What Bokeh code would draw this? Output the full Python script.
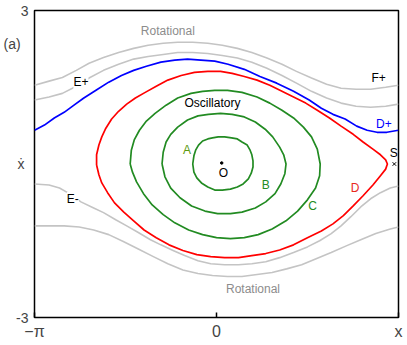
import numpy as np
from bokeh.plotting import figure
from bokeh.models import Range1d, FixedTicker, Label
from bokeh.embed import file_html
from bokeh.resources import INLINE

# ---- curves (phase plane: x, x-dot) ----
rot_top_outer_x = [-3.14, -2.89, -2.66, -2.42, -2.20, -1.95, -1.69, -1.43, -1.18, -0.92, -0.67, -0.41, -0.15,
                   0.10, 0.36, 0.61, 0.87, 1.13, 1.38, 1.64, 1.90, 2.15, 2.41, 2.66, 2.92, 3.14]
rot_top_outer_y = [1.54, 1.62, 1.69, 1.83, 1.97, 2.08, 2.18, 2.26, 2.32, 2.36, 2.38, 2.38, 2.36,
                   2.32, 2.26, 2.18, 2.07, 1.95, 1.81, 1.68, 1.56, 1.48, 1.46, 1.46, 1.50, 1.54]

rot_top_inner_x = [-3.14, -2.89, -2.66, -2.42, -2.20, -1.95, -1.69, -1.43, -1.18, -0.92, -0.67, -0.41, -0.15,
                   0.10, 0.36, 0.61, 0.87, 1.13, 1.38, 1.64, 1.90, 2.15, 2.41, 2.66, 2.92, 3.14]
rot_top_inner_y = [1.25, 1.31, 1.38, 1.52, 1.68, 1.83, 1.95, 2.05, 2.10, 2.14, 2.18, 2.18, 2.16,
                   2.12, 2.07, 1.99, 1.87, 1.73, 1.58, 1.42, 1.29, 1.19, 1.13, 1.11, 1.13, 1.17]

blue_x = [-3.14, -2.97, -2.80, -2.63, -2.46, -2.29, -2.08, -1.86, -1.64, -1.43, -1.21, -0.96, -0.72, -0.50,
          -0.27, -0.03, 0.20, 0.48, 0.75, 1.04, 1.33, 1.60, 1.81, 2.01, 2.22, 2.42, 2.60, 2.77, 2.94, 3.14]
blue_y = [0.66, 0.76, 0.90, 1.01, 1.15, 1.29, 1.44, 1.60, 1.73, 1.83, 1.91, 1.99, 2.03, 2.05,
          2.03, 2.01, 1.95, 1.85, 1.71, 1.58, 1.42, 1.25, 1.09, 0.97, 0.88, 0.74, 0.66, 0.62, 0.62, 0.66]

red_x = [-2.07, -2.07, -2.03, -1.98, -1.91, -1.81, -1.69, -1.55, -1.40, -1.23, -1.04, -0.84, -0.61, -0.38,
         -0.15, 0.07, 0.27, 0.48, 0.70, 0.92, 1.13, 1.33, 1.54, 1.74, 1.95, 2.15, 2.36, 2.53, 2.70, 2.83,
         2.92, 2.95, 2.92, 2.83, 2.70, 2.53, 2.36, 2.19, 2.01, 1.81, 1.57, 1.33, 1.09, 0.85, 0.61, 0.38,
         0.14, -0.10, -0.34, -0.58, -0.82, -1.04, -1.25, -1.43, -1.60, -1.76, -1.88, -1.98, -2.03, -2.07]
red_y = [-0.02, 0.18, 0.37, 0.53, 0.70, 0.88, 1.03, 1.17, 1.29, 1.40, 1.52, 1.64, 1.73, 1.79,
         1.81, 1.81, 1.77, 1.71, 1.64, 1.54, 1.42, 1.31, 1.19, 1.05, 0.90, 0.74, 0.58, 0.43, 0.29, 0.18,
         0.08, 0.00, -0.10, -0.23, -0.41, -0.62, -0.82, -1.01, -1.17, -1.31, -1.44, -1.58, -1.68, -1.75, -1.79, -1.83,
         -1.83, -1.81, -1.77, -1.69, -1.58, -1.44, -1.29, -1.11, -0.94, -0.76, -0.56, -0.37, -0.21, -0.02]

green_c_x = [-1.49, -1.47, -1.42, -1.33, -1.21, -1.06, -0.87, -0.67, -0.44, -0.24, -0.03, 0.19, 0.44, 0.70,
             0.92, 1.13, 1.33, 1.50, 1.64, 1.74, 1.79, 1.78, 1.71, 1.57, 1.40, 1.20, 0.96, 0.72, 0.48, 0.24,
             0.00, -0.24, -0.48, -0.72, -0.92, -1.11, -1.26, -1.38, -1.45, -1.49]
green_c_y = [0.00, 0.27, 0.47, 0.66, 0.84, 0.99, 1.15, 1.29, 1.38, 1.42, 1.44, 1.44, 1.40, 1.31,
             1.19, 1.05, 0.90, 0.72, 0.53, 0.29, 0.00, -0.23, -0.47, -0.70, -0.92, -1.11, -1.27, -1.38, -1.44, -1.46,
             -1.44, -1.38, -1.29, -1.15, -0.99, -0.80, -0.58, -0.35, -0.16, 0.00]

green_b_x = [-0.94, -0.92, -0.87, -0.79, -0.67, -0.50, -0.32, -0.14, 0.07, 0.27, 0.48, 0.67, 0.84, 0.97,
             1.09, 1.16, 1.20, 1.18, 1.11, 1.01, 0.85, 0.67, 0.44, 0.24, 0.02, -0.20, -0.43, -0.63, -0.79,
             -0.89, -0.94]
green_b_y = [0.00, 0.23, 0.43, 0.58, 0.72, 0.86, 0.94, 0.97, 0.99, 0.97, 0.92, 0.82, 0.68, 0.53,
             0.33, 0.18, 0.00, -0.19, -0.39, -0.58, -0.74, -0.86, -0.94, -0.97, -0.97, -0.92, -0.82, -0.66, -0.47,
             -0.25, 0.00]

green_a_x = [-0.41, -0.39, -0.36, -0.31, -0.24, -0.15, -0.07, 0.03, 0.14, 0.26, 0.36, 0.44, 0.53, 0.58,
             0.61, 0.63, 0.63, 0.60, 0.55, 0.46, 0.36, 0.24, 0.10, -0.03, -0.15, -0.26, -0.34, -0.39, -0.41]
green_a_y = [0.00, 0.16, 0.27, 0.37, 0.45, 0.49, 0.51, 0.53, 0.53, 0.51, 0.49, 0.43, 0.37, 0.27,
             0.18, 0.06, -0.06, -0.18, -0.29, -0.39, -0.45, -0.49, -0.51, -0.51, -0.45, -0.37, -0.27, -0.16, 0.00]

rot_bot_inner_x = [-3.14, -2.89, -2.71, -2.54, -2.34, -2.12, -1.95, -1.74, -1.55, -1.35, -1.14, -0.96, -0.75,
                   -0.55, -0.32, -0.10, 0.14, 0.38, 0.61, 0.85, 1.09, 1.33, 1.57, 1.78, 1.98, 2.15, 2.32, 2.49,
                   2.66, 2.83, 3.00, 3.14]
rot_bot_inner_y = [-0.39, -0.41, -0.47, -0.58, -0.74, -0.86, -0.95, -1.09, -1.21, -1.34, -1.48, -1.58, -1.69,
                   -1.79, -1.89, -1.95, -1.97, -1.97, -1.95, -1.91, -1.83, -1.73, -1.62, -1.50, -1.36, -1.21, -1.03,
                   -0.84, -0.68, -0.56, -0.47, -0.43]

rot_bot_outer_x = [-3.14, -2.89, -2.63, -2.37, -2.12, -1.86, -1.60, -1.35, -1.09, -0.84, -0.58, -0.32, -0.07,
                   0.19, 0.44, 0.70, 0.96, 1.21, 1.47, 1.72, 1.98, 2.24, 2.49, 2.75, 3.00, 3.14]
rot_bot_outer_y = [-1.21, -1.21, -1.21, -1.23, -1.29, -1.38, -1.52, -1.66, -1.81, -1.95, -2.07, -2.14, -2.18,
                   -2.20, -2.20, -2.16, -2.12, -2.05, -1.97, -1.85, -1.73, -1.60, -1.48, -1.36, -1.27, -1.23]

centre_x, centre_y = [0.09], [0.02]
saddle_x, saddle_y = [3.07], [0.0]

# axis tick labels
x_ticks = [-np.pi, 0.0, np.pi]
x_tick_labels = ["\u2212\u03c0", "0", "x"]
y_ticks = [-3, 0, 2.34, 3]
y_tick_labels = ["-3", "\u1e8b\u00a0", "(a)\u00a0\u00a0", "3"]

# text labels: (text, x, y, colour)
labels = [
    ("Rotational", -0.84, 2.59, "#8c8c8c"),
    ("Rotational", 0.63, -2.45, "#8c8c8c"),
    ("Oscillatory", -0.07, 1.19, "black"),
    ("F+", 2.80, 1.68, "black"),
    ("D+", 2.89, 0.78, "blue"),
    ("S", 3.06, 0.21, "black"),
    ("D", 2.39, -0.47, "#e8281e"),
    ("C", 1.66, -0.82, "#228b22"),
    ("B", 0.85, -0.41, "#228b22"),
    ("A", -0.51, 0.27, "#5c9a10"),
    ("O", 0.12, -0.18, "black"),
]
boxed_labels = [("E+", -2.34, 1.60), ("E-", -2.48, -0.68)]

p = figure(width=404, height=342, x_range=Range1d(-np.pi, np.pi), y_range=Range1d(-3, 3),
           output_backend="svg", toolbar_location=None,
           min_border_left=30, min_border_right=6, min_border_top=10, min_border_bottom=24)
p.grid.visible = False
p.background_fill_color = "white"
p.border_fill_color = "white"
p.outline_line_color = "black"
p.outline_line_width = 1.5
p.outline_line_alpha = 1.0

GRAY = "#c4c4c4"
GREEN = "#228b22"
for xs, ys in [(rot_top_outer_x, rot_top_outer_y), (rot_top_inner_x, rot_top_inner_y),
               (rot_bot_inner_x, rot_bot_inner_y), (rot_bot_outer_x, rot_bot_outer_y)]:
    p.line(xs, ys, line_color=GRAY, line_width=1.6, line_join="round")
p.line(blue_x, blue_y, line_color="blue", line_width=1.7, line_join="round")
p.line(red_x, red_y, line_color="red", line_width=1.7, line_join="round")
for xs, ys in [(green_a_x, green_a_y), (green_b_x, green_b_y), (green_c_x, green_c_y)]:
    p.line(xs, ys, line_color=GREEN, line_width=1.7, line_join="round")

p.scatter(centre_x, centre_y, size=2.5, color="black")
p.scatter(saddle_x, saddle_y, marker="x", size=5, line_color="black", line_width=1)

for t, x, y, c in labels:
    p.add_layout(Label(x=x, y=y, text=t, text_color=c, text_font="Liberation Sans",
                       text_font_size="12px", text_align="center", text_baseline="middle"))
for t, x, y in boxed_labels:
    p.add_layout(Label(x=x, y=y, text=t, text_color="black", text_font="Liberation Sans",
                       text_font_size="12px", text_align="center", text_baseline="middle",
                       background_fill_color="white"))

# axes
xa = p.xaxis[0]
xa.ticker = FixedTicker(ticks=x_ticks)
xa.major_label_overrides = {t: s for t, s in zip(x_ticks, x_tick_labels)}
xa.major_tick_in = 5
xa.major_tick_out = 0
xa.major_tick_line_width = 1.5
xa.axis_line_color = None
xa.minor_tick_line_color = None
xa.major_label_text_font = "Liberation Sans"
xa.major_label_text_font_size = "16px"
xa.major_label_standoff = 5

ya = p.yaxis[0]
ya.ticker = FixedTicker(ticks=y_ticks)
ya.major_label_overrides = {t: s for t, s in zip(y_ticks, y_tick_labels)}
ya.major_tick_in = 0
ya.major_tick_out = 0
ya.axis_line_color = None
ya.minor_tick_line_color = None
ya.major_label_text_font = "Liberation Sans"
ya.major_label_text_font_size = "14px"
ya.major_label_standoff = 6

open("out.html", "w").write(file_html(p, INLINE))
